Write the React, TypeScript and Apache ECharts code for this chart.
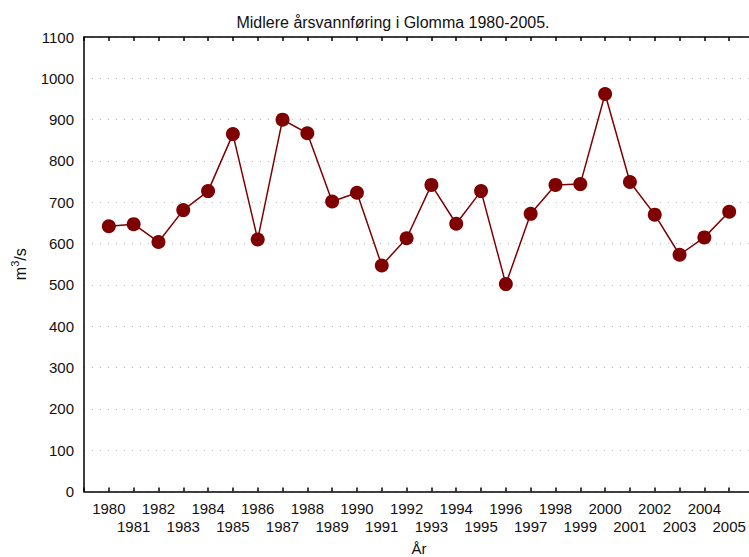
import React, { useEffect, useRef } from "react";
import * as echarts from "echarts";

const years = [1980, 1981, 1982, 1983, 1984, 1985, 1986, 1987, 1988, 1989, 1990, 1991, 1992, 1993, 1994, 1995, 1996, 1997, 1998, 1999, 2000, 2001, 2002, 2003, 2004, 2005];
const flow = [642, 647, 604, 681, 727, 865, 610, 900, 867, 702, 723, 547, 613, 742, 648, 727, 502, 672, 742, 744, 962, 749, 670, 573, 615, 677];
const titleText = "Midlere årsvannføring i Glomma 1980-2005.";
const xName = "År";

export default function App() {
  const ref = useRef<HTMLDivElement>(null);
  useEffect(() => {
    if (!ref.current) return;
    const chart = echarts.init(ref.current, undefined, { renderer: "svg" });
    const font = "'Liberation Sans', Arial, sans-serif";
    const data = years.map((y, i) => [y, flow[i]]);
    chart.setOption({
      animation: false,
      backgroundColor: "#ffffff",
      textStyle: { fontFamily: font },
      title: {
        text: titleText,
        left: 388,
        textAlign: "center",
        top: 9,
        textStyle: { fontSize: 16, fontWeight: "normal", color: "#111", fontFamily: font },
      },
      grid: { left: 84, top: 37, width: 670, height: 454.5, containLabel: false, outerBoundsMode: "none" },
      xAxis: [
        {
          type: "value",
          min: 1979,
          max: 2006,
          interval: 1,
          position: "bottom",
          name: xName,
          nameLocation: "middle",
          nameGap: 49,
          nameTextStyle: { fontSize: 15, color: "#111", fontFamily: font },
          axisLine: { show: true, lineStyle: { color: "#000", width: 1.5 } },
          axisTick: { show: true, inside: true, length: 4, lineStyle: { color: "#000", width: 1.5 } },
          splitLine: { show: false },
          axisLabel: {
            fontSize: 15,
            color: "#111",
            margin: 8,
            lineHeight: 18,
            fontFamily: font,
            formatter: (v: number) => {
              if (v < 1980 || v > 2005) return "";
              return v % 2 === 1 ? "\n" + v : String(v);
            },
          },
        },
        {
          type: "value",
          min: 1979,
          max: 2006,
          interval: 1,
          position: "top",
          axisLine: { show: true, lineStyle: { color: "#000", width: 1.5 } },
          axisTick: { show: true, inside: true, length: 4, lineStyle: { color: "#000", width: 1.5 } },
          axisLabel: { show: false },
          splitLine: { show: false },
        },
      ],
      yAxis: {
        type: "value",
        min: 0,
        max: 1100,
        interval: 100,
        name: "{a|m}{s|3}{a|/s}",
        nameLocation: "middle",
        nameGap: 56,
        nameRotate: 90,
        nameTextStyle: {
          fontFamily: font,
          rich: {
            a: { fontSize: 16, color: "#111", fontFamily: font, verticalAlign: "bottom" },
            s: { fontSize: 11, color: "#111", fontFamily: font, verticalAlign: "top", padding: [0, 0, 8, 0] },
          },
        },
        axisLine: { show: true, lineStyle: { color: "#000", width: 1.5 } },
        axisTick: { show: false },
        axisLabel: { fontSize: 15, color: "#111", margin: 10, fontFamily: font, formatter: (v: number) => String(v) },
        splitLine: { show: true, lineStyle: { color: "#bbbbbb", type: [1, 7], width: 1 } },
      },
      series: [
        {
          type: "line",
          data,
          symbol: "circle",
          symbolSize: 14,
          itemStyle: { color: "#7f0000" },
          lineStyle: { color: "#7f0000", width: 1.5 },
        },
      ],
    });
    return () => chart.dispose();
  }, []);
  return <div ref={ref} style={{ width: 749, height: 557, position: "absolute", left: 0, top: 0 }} />;
}
